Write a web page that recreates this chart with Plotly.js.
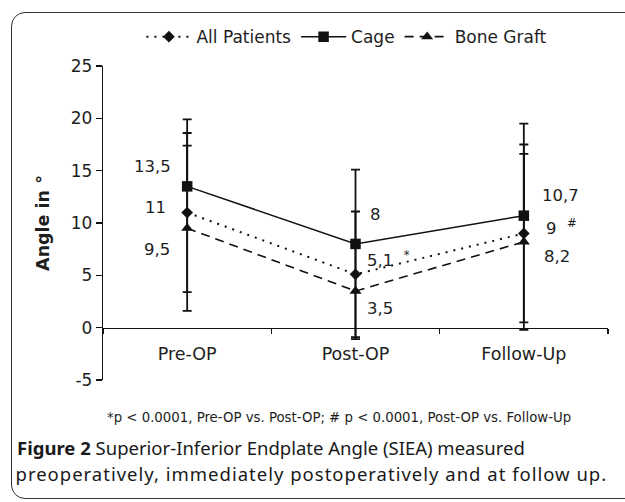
<!DOCTYPE html>
<html>
<head>
<meta charset="utf-8">
<script src="https://cdn.plot.ly/plotly-3.0.1.min.js"></script>
<style>
  html, body { margin: 0; padding: 0; background: #fff; overflow: hidden; }
  #wrap { position: relative; width: 625px; height: 502px; overflow: hidden; }
  #frame { position: absolute; left: 11px; top: 12px; width: 700px; height: 485px;
           border: 1.5px solid #333; border-radius: 14px; pointer-events: none; }
  #chart { position: absolute; left: 0; top: 0; width: 625px; height: 502px; }
  .annotation[data-index="11"] .annotation-text { letter-spacing: 1px; }
</style>
</head>
<body>
<div id="wrap">
  <div id="frame"></div>
  <div id="chart"></div>
</div>
<script>
// ---- data ----
const categories = ['Pre-OP', 'Post-OP', 'Follow-Up'];
const seriesNames = ['All Patients', 'Cage', 'Bone Graft'];

const allPatients      = [11, 5.1, 9];
const allPatientsPlus  = [7.6, 6.0, 8.5];
const allPatientsMinus = [7.6, 6.0, 8.5];
const allPatientsMarks = ['', '*', '#'];

const cage      = [13.5, 8, 10.7];
const cagePlus  = [6.4, 7.1, 8.8];
const cageMinus = [0, 0, 0];

const boneGraft      = [9.5, 3.5, 8.2];
const boneGraftPlus  = [7.9, 4.6, 8.4];
const boneGraftMinus = [7.9, 4.6, 8.4];

const yTickVals = [-5, 0, 5, 10, 15, 20, 25];
const yTickText = ['-5', '0', '5', '10', '15', '20', '25'];

const footnote = '*p < 0.0001, Pre-OP vs. Post-OP; # p < 0.0001, Post-OP vs. Follow-Up';
const captionBold = 'Figure 2';
const captionLine1 = 'Superior-Inferior Endplate Angle (SIEA) measured';
const captionLine2 = 'preoperatively, immediately postoperatively and at follow up.';

// ---- styles ----
const ink = '#1e1e1e';
const font = 'DejaVu Sans, sans-serif';
const fs = 17;

function errBar(plus, minus) {
  return { type: 'data', symmetric: false, array: plus, arrayminus: minus,
           color: '#111', thickness: 1.8, width: 4.5, visible: true };
}

const traces = [
  { x: categories, y: allPatients, name: seriesNames[0], type: 'scatter', mode: 'lines+markers',
    line: { color: '#111', width: 2, dash: '2px,6px' },
    marker: { symbol: 'diamond', size: 9, color: '#111' },
    error_y: errBar(allPatientsPlus, allPatientsMinus) },
  { x: categories, y: cage, name: seriesNames[1], type: 'scatter', mode: 'lines+markers',
    line: { color: '#111', width: 1.5, dash: 'solid' },
    marker: { symbol: 'square', size: 10.5, color: '#111' },
    error_y: errBar(cagePlus, cageMinus) },
  { x: categories, y: boneGraft, name: seriesNames[2], type: 'scatter', mode: 'lines+markers',
    line: { color: '#111', width: 1.6, dash: '9px,6px' },
    marker: { symbol: 'triangle-up', size: 10.5, color: '#111' },
    error_y: errBar(boneGraftPlus, boneGraftMinus) }
];

// data label placement (style only)
const labelStyle = {
  all:  { xs: [-19, 9, 20],  ys: [5, 15, 6],   anchor: ['right', 'left', 'left'] },
  cage: { xs: [-14, 12, 16], ys: [20, 29, 20], anchor: ['right', 'left', 'left'] },
  bone: { xs: [-15, 9, 18],  ys: [-21, -17, -15], anchor: ['right', 'left', 'left'] }
};

function fmt(v) { return String(v).replace('.', ','); }

const annotations = [];
function addLabels(values, st, marks) {
  values.forEach((v, i) => {
    let t = fmt(v);
    if (marks && marks[i]) t += '\u00a0\u00a0<sup>' + marks[i] + '</sup>';
    annotations.push({ x: categories[i], y: v, xref: 'x', yref: 'y', text: t, showarrow: false,
      xanchor: st.anchor[i], yanchor: 'middle', xshift: st.xs[i], yshift: st.ys[i],
      font: { family: font, size: 16.5, color: ink } });
  });
}
addLabels(allPatients, labelStyle.all, allPatientsMarks);
addLabels(cage, labelStyle.cage, null);
addLabels(boneGraft, labelStyle.bone, null);

// footnote & caption (indices 9, 10, 11)
annotations.push({ xref: 'paper', yref: 'paper', x: 0.467, y: -0.121, xanchor: 'center', yanchor: 'middle',
  text: footnote, showarrow: false, font: { family: font, size: 13.3, color: ink } });
annotations.push({ xref: 'paper', yref: 'paper', x: -0.170, y: -0.2134, xanchor: 'left', yanchor: 'middle',
  xshift: -2,
  text: '<b>' + captionBold + '</b> ' + captionLine1, showarrow: false,
  font: { family: 'Noto Sans, sans-serif', size: 18.5, color: '#1a1a1a' } });
annotations.push({ xref: 'paper', yref: 'paper', x: -0.170, y: -0.2962, xanchor: 'left', yanchor: 'middle',
  xshift: 27,
  text: captionLine2, showarrow: false,
  font: { family: 'Noto Sans, sans-serif', size: 18.5, color: '#1a1a1a' } });

const layout = {
  width: 625, height: 502,
  margin: { l: 103, r: 17, t: 66, b: 122, pad: 0 },
  paper_bgcolor: 'rgba(0,0,0,0)', plot_bgcolor: 'rgba(0,0,0,0)',
  font: { family: font, size: fs, color: ink },
  showlegend: true,
  legend: { orientation: 'h', x: 0.483, xanchor: 'center', y: 1.092, yanchor: 'middle',
            font: { family: font, size: fs, color: ink }, itemwidth: 45, bgcolor: 'rgba(0,0,0,0)' },
  xaxis: {
    type: 'category', range: [-0.5, 2.5], anchor: 'free', position: 0.1656,
    showline: true, linecolor: '#111', linewidth: 1.2,
    ticks: 'outside', tickson: 'boundaries', ticklen: 5, tickwidth: 1.2, tickcolor: '#111',
    showgrid: false, zeroline: false, ticklabelstandoff: 10,
    tickfont: { family: font, size: 17.5, color: ink }
  },
  yaxis: {
    range: [-5, 25], tickvals: yTickVals, ticktext: yTickText,
    showline: true, linecolor: '#111', linewidth: 1.2,
    ticks: 'outside', ticklen: 6, tickwidth: 1.2, tickcolor: '#111',
    showgrid: false, zeroline: false,
    tickfont: { family: font, size: 17, color: ink },
    title: { text: '<b>Angle in °</b>', standoff: 16, font: { family: font, size: 17.5, color: ink } }
  },
  annotations: annotations
};

Plotly.newPlot('chart', traces, layout, { displayModeBar: false, staticPlot: true });
</script>
</body>
</html>
